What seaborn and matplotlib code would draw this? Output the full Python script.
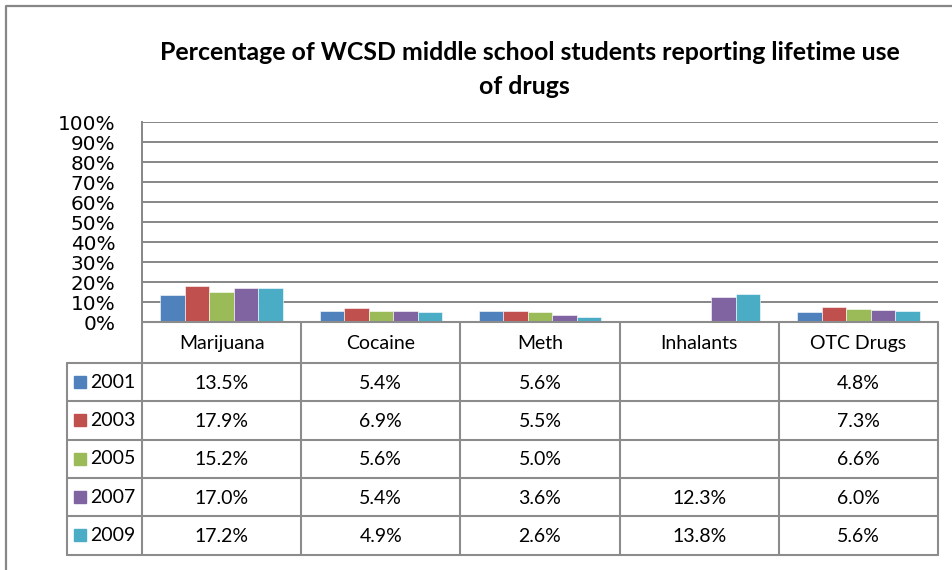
import matplotlib
matplotlib.use("Agg")
import matplotlib.pyplot as plt
import matplotlib.transforms as mtransforms
from matplotlib.lines import Line2D
from matplotlib.patches import Rectangle
import seaborn as sns
import pandas as pd
import numpy as np

# Survey results: lifetime use (%) by drug and survey year
categories = ["Marijuana", "Cocaine", "Meth", "Inhalants", "OTC Drugs"]
years = ["2001", "2003", "2005", "2007", "2009"]
pct_2001 = [13.5, 5.4, 5.6, None, 4.8]
pct_2003 = [17.9, 6.9, 5.5, None, 7.3]
pct_2005 = [15.2, 5.6, 5.0, None, 6.6]
pct_2007 = [17.0, 5.4, 3.6, 12.3, 6.0]
pct_2009 = [17.2, 4.9, 2.6, 13.8, 5.6]
y_ticks = [0, 10, 20, 30, 40, 50, 60, 70, 80, 90, 100]
y_tick_labels = [f"{t}%" for t in y_ticks]
title_lines = ["Percentage of WCSD middle school students reporting lifetime use",
               "of drugs"]

colors = ["#4F81BD", "#C0504D", "#9BBB59", "#8064A2", "#4BACC6"]
series = [pct_2001, pct_2003, pct_2005, pct_2007, pct_2009]

rows = []
for yr, vals in zip(years, series):
    for cat, v in zip(categories, vals):
        if v is not None:
            rows.append({"drug": cat, "year": yr, "pct": v})
df = pd.DataFrame(rows)

sns.set_theme(style="white")
plt.rcParams["font.family"] = ["Lato", "DejaVu Sans"]

W, H = 952, 570
fig = plt.figure(figsize=(W / 100, H / 100), dpi=100)

grid_col = "#868686"
line_col = "#8c8c8c"

# Plot area in pixel terms
left, right, top, bottom = 142, 938, 122, 322
ax = fig.add_axes([left / W, 1 - bottom / H, (right - left) / W, (bottom - top) / H])
sns.barplot(data=df, x="drug", y="pct", hue="year", order=categories,
            hue_order=years, palette=colors, saturation=1, width=0.77,
            errorbar=None, legend=False, ax=ax, edgecolor="white",
            linewidth=0.4, zorder=3)
ax.set_xlim(-0.5, len(categories) - 0.5)
ax.set_ylim(0, 100)
ax.set_yticks(y_ticks)
ax.set_yticklabels(y_tick_labels, fontfamily="DejaVu Sans", fontsize=14.4, color="black")
ax.tick_params(axis="y", length=0, pad=19)
ax.set_xticks([])
ax.set_xlabel("")
ax.set_ylabel("")
for t in y_ticks[1:]:
    ax.axhline(t, color=grid_col, lw=1.4, zorder=1)
for s in ["top", "right", "bottom"]:
    ax.spines[s].set_visible(False)
ax.spines["left"].set_color(grid_col)
ax.spines["left"].set_linewidth(1.4)

# Overlay in pixel coordinates (origin top-left)
ov = fig.add_axes([0, 0, 1, 1], facecolor="none")
ov.set_xlim(0, W)
ov.set_ylim(H, 0)
ov.axis("off")
blend = mtransforms.blended_transform_factory(ax.transData, ov.transData)

# Outer chart border
ov.add_line(Line2D([6, 6, W + 5], [H + 5, 6, 6], color="#878787", lw=1.6))

# Title
ov.text(530, 53, title_lines[0], ha="center", va="center", fontsize=17.9,
        fontweight="bold", color="black")
ov.text(524, 86, title_lines[1], ha="center", va="center", fontsize=17.9,
        fontweight="bold", color="black")

# Data table below the axis
row_edges = [322, 363, 401.3, 439.6, 477.9, 516.2, 554.5]
legend_left = 67
tlw = 1.5
# horizontal rules
ov.add_line(Line2D([left, right], [row_edges[0]] * 2, color=line_col, lw=tlw))
for yv in row_edges[1:]:
    ov.add_line(Line2D([legend_left, right], [yv] * 2, color=line_col, lw=tlw))
# vertical rules
ov.add_line(Line2D([legend_left, legend_left], [row_edges[1], row_edges[-1]], color=line_col, lw=tlw))
for i in range(len(categories) + 1):
    ov.add_line(Line2D([i - 0.5, i - 0.5], [row_edges[0], row_edges[-1]],
                       color=line_col, lw=tlw, transform=blend))

cell_fs = 14
for i, cat in enumerate(categories):
    ov.text(i, (row_edges[0] + row_edges[1]) / 2 + 1, cat, ha="center", va="center",
            fontsize=cell_fs, color="black", transform=blend)
for r, (yr, vals, col) in enumerate(zip(years, series, colors)):
    yc = (row_edges[r + 1] + row_edges[r + 2]) / 2
    ov.add_patch(Rectangle((74, yc - 6), 12, 12, color=col))
    ov.text(90, yc, yr, ha="left", va="center", fontsize=cell_fs, color="black")
    for i, v in enumerate(vals):
        if v is not None:
            ov.text(i, yc + 1, f"{v:.1f}%", ha="center", va="center",
                    fontsize=cell_fs, color="black", transform=blend)

fig.savefig("out.png", dpi=100)
